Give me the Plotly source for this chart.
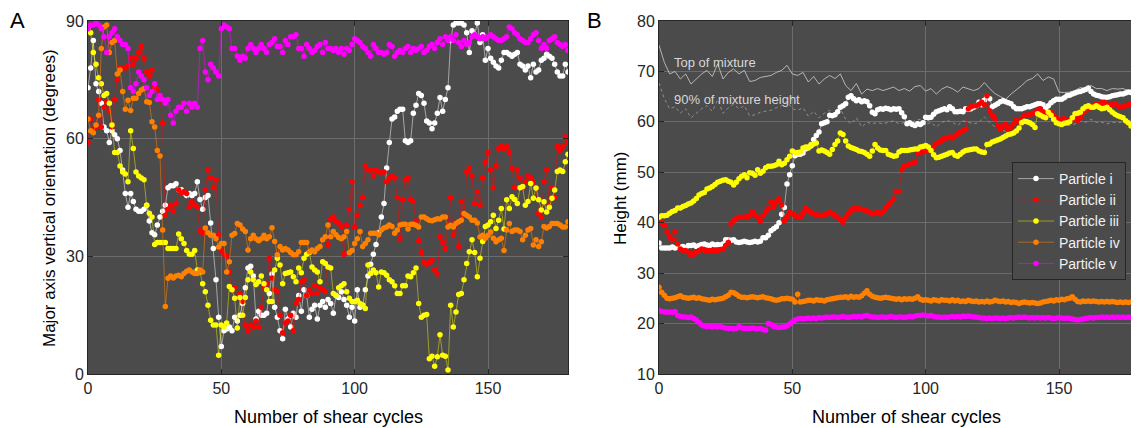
import plotly.graph_objects as go

# ---------------- data ----------------
cycles = list(range(181))
mix_cycles = list(range(0, 181, 2))

# Panel A: major axis vertical orientation (degrees)
a_i = [73, 78, 85, 74, 72, 69, 63, 62, 59, 62,
       61, 60, 57, 52, 46, 42.5, 46, 44, 42, 41.5,
       41.5, 42, 43, 39, 36, 35.5, 38, 40, 41.5, 43,
       47.5, 48, 48, 48.5, 47, 47, 46, 45.5, 46, 45.5,
       46, 49, 44.5, 42, 45, 45.5, 38.5, 32, 24, 14.5,
       7, 11, 11.5, 12, 11, 14.5, 13.5, 15, 18, 22,
       27, 27.5, 25, 14, 16, 15, 15, 15.5, 20.5, 25.5,
       17, 14.5, 11, 9, 16.5, 14, 12, 15.5, 14.5, 20,
       16, 21.5, 20, 14.5, 16.5, 17.5, 14, 17.5, 18.5, 17,
       19, 18, 15.5, 20, 19.5, 21, 19, 17.5, 14.5, 17,
       13.5, 21.5, 17, 17.5, 21.5, 25, 28, 30.5, 33, 36,
       40, 43.5, 52.5, 59, 65, 65.5, 67, 67.5, 67.5, 59.5,
       59, 59.5, 66.5, 68.5, 71.5, 71, 69, 64.5, 64, 62.5,
       64, 66.5, 70.5, 67, 70, 73, 85, 89, 89.5, 89.5,
       89.5, 89, 87, 82, 87.5, 86.5, 89.5, 84.5, 86.5, 80,
       83, 80.5, 79.5, 78.5, 78, 80, 82, 82, 81.5, 81,
       81.5, 82, 79, 78.5, 77.5, 78.5, 75.5, 79, 77, 77.5,
       80, 80.5, 81.5, 81, 80.5, 79, 77, 76, 76, 79,
       77]
a_ii = [59, 65, 62, 63, 70, 63, 68, 69.5, 67, 63,
        70, 75, 78, 78, 78, 78.5, 80.5, 79, 80.5, 82,
        83.5, 80.5, 77, 76, 77.5, 73, 72.5, 70.5, 64, 40.5,
        42, 43, 41.5, 43.5, 47, 46, 46.5, 46, 42.5, 44,
        43, 42.5, 36.5, 36, 47, 52, 50, 47.5, 49.5, 35.5,
        31.5, 30.5, 30, 26, 21.5, 22, 19.5, 20.5, 18.5, 12.5,
        11, 12.5, 12, 13.5, 12, 17, 22, 23, 29.5, 24.5,
        21.5, 21, 15, 10.5, 13, 13.5, 15, 11, 18, 19,
        23.5, 24, 20, 21.5, 20.5, 22.5, 20.5, 22, 21.5, 21,
        33, 39.5, 40, 39, 38.5, 37.5, 30.5, 38, 42, 49,
        37.5, 40.5, 43, 45, 53, 52, 52, 50.5, 52, 51.5,
        51.5, 51.5, 49, 50, 50.5, 50, 45, 34.5, 44.5, 49.5,
        50, 44.5, 44, 39, 34, 31, 28.5, 28, 28.5, 29,
        26.5, 25.5, 35, 33.5, 32, 38, 45, 35.5, 38.5, 32.5,
        44, 40.5, 51.5, 52.5, 50.5, 43.5, 46.5, 43, 50, 54,
        56.5, 52, 47.5, 53, 57.5, 58, 57.5, 58, 56.5, 52.5,
        47.5, 52, 50, 47.5, 49, 50.5, 50, 49, 47.5, 41,
        40, 49, 52, 43, 47.5, 45, 58, 57, 58, 60.5,
        59]
a_iii = [88, 87, 82, 79, 75.5, 74, 71, 71.5, 69, 63.5,
         56.5, 56.5, 53, 51.5, 51, 49, 62, 57.5, 51.5, 50.5,
         50, 49.5, 43, 41, 40, 33, 33.5, 33.5, 33.5, 33.5,
         32, 32, 32, 32, 35.7, 34.5, 33.3, 31.5, 30.5, 30.5,
         31.5, 26.5, 26, 23, 21, 17.5, 13.7, 12.5, 12.5, 4.8,
         12.5, 12, 13, 22.3, 21.5, 19.3, 11.7, 19.5, 15, 19.5,
         24, 26, 24, 22.8, 23.5, 25, 23, 21.5, 18.5, 18.5,
         26.5, 29.5, 27.8, 23, 25.6, 25.8, 26, 24.8, 23.5, 27,
         25.8, 29.5, 30.5, 31, 27.3, 26.5, 26, 23.5, 28.6, 28.2,
         27.3, 27, 20.5, 20, 22, 22.5, 23, 21, 19.3, 18.5,
         18.4, 18.8, 18, 17.6, 16.7, 27.8, 25.6, 26.5, 25.8, 22.2,
         26, 25.8, 25.2, 24, 23.5, 22.5, 20.5, 20.5, 22.5, 22.5,
         25, 24.8, 25.8, 27, 18, 14.5, 15, 15.2, 3.9, 4.5,
         2, 4.4, 10, 4.8, 4.5, 1, 17.5, 12, 15.8, 20.3,
         20.5, 24, 28.2, 31.2, 34.2, 31, 24.8, 29.5, 33.8, 37.6,
         38, 38.8, 40.5, 37.1, 39.2, 42.2, 37, 44.4, 42.2, 45.2,
         44.5, 43.5, 47.5, 47.8, 43, 44, 48.6, 44.8, 47.4, 44.4,
         41.8, 43.9, 41.3, 42.5, 44.8, 46.9, 51.6, 52, 51.6, 54.1,
         56]
a_iv = [65, 62, 61.5, 63.5, 66, 83, 88.5, 89, 82, 84.5,
        85, 76.5, 77.5, 72, 67.5, 69.8, 67.2, 70.3, 70.3, 71.5,
        72.4, 72.8, 69.4, 69.2, 64.3, 63, 57, 55.6, 36.7, 17.2,
        24.4, 25, 24.5, 25, 25.2, 24.8, 25.6, 26.2, 26.5, 26,
        25.6, 25.6, 26.5, 26, 37.2, 36, 35.4, 35.4, 34.5, 32.4,
        33.3, 33.3, 26, 28.6, 35.4, 35.8, 38.4, 38, 37, 36.3,
        31.6, 34.5, 35.4, 34.5, 34, 34.5, 35.4, 34.5, 35, 37.3,
        33.8, 30.4, 32.5, 31.6, 32, 31.6, 31, 30.4, 30.4, 31.2,
        33.5, 33.5, 33.5, 31.2, 31.6, 31.2, 32, 32.5, 34.2, 35,
        38, 35, 36.3, 35.5, 34.8, 34.5, 35, 36.3, 30.9, 31.5,
        33.3, 34.5, 36.3, 32.5, 33.3, 34.2, 35.9, 35.9, 35.9, 35.5,
        36.7, 37.2, 37.5, 38, 37.6, 35.9, 36.7, 38, 38.2, 38.2,
        37, 38.2, 38.2, 37.9, 37.5, 40, 40, 39.6, 39.2, 39.1,
        39.3, 39.6, 39.5, 40, 40, 37.5, 37.9, 37.5, 38.4, 38.8,
        39.2, 40.9, 40.5, 40, 39.2, 39.2, 38.5, 34.9, 35.4, 34.6,
        35.4, 36.2, 34.6, 33.7, 34.2, 34.6, 31.5, 36.7, 38.4, 36.3,
        36.7, 36.7, 36.3, 34.2, 35.4, 36.7, 37.1, 32.9, 34.2, 32.5,
        33.7, 37.6, 37.2, 37.6, 38.4, 38.4, 38.4, 38, 37.5, 37.5,
        38.8]
a_v = [88, 89, 89, 89.5, 89, 88, 86, 82, 86, 87,
       88, 86, 85, 84, 84, 83, 73, 72, 74, 77,
       76, 75, 73, 71, 72, 74, 70, 71, 70, 69,
       70, 66, 64, 67, 68, 68, 69, 67, 69, 68,
       69, 68, 83, 85, 77, 75, 79, 78, 77, 76,
       88, 89, 88.5, 88, 83, 83, 81, 80, 81, 80.5,
       83, 84, 83, 82, 83, 84, 83, 82, 84, 84.5,
       85.5, 83.5, 83.5, 82, 85, 84, 86, 86, 86.5, 83,
       83, 81, 84, 83, 82, 82.5, 83.5, 84, 82, 84.5,
       83, 83, 82.5, 83, 82, 83, 81.5, 83, 82.5, 84,
       85.5, 85, 84.5, 83.5, 83, 82, 81, 84, 83, 82,
       82, 81.5, 82, 84, 83.5, 81, 82, 82.5, 82, 83,
       83.5, 82, 83, 82.5, 83, 83.5, 82, 82.5, 83.5, 84,
       83, 84.5, 85.5, 84, 86, 85, 86, 85, 86.5, 84.5,
       83.5, 85, 84, 84.5, 86, 86.5, 86, 85.5, 86, 85.5,
       86, 86.5, 86, 85.5, 85, 85, 85.5, 86, 88.5, 88,
       87, 86.5, 85.5, 85, 84.5, 84.5, 85.5, 86.5, 87, 85,
       83, 84, 83, 85, 85.5, 86, 84.5, 84, 83.5, 84,
       82.5]

# Panel B: height (mm)
b_i = [36, 35, 35, 35, 35, 35.2, 35, 35.2, 35.2, 35.3,
       35, 35.5, 35.5, 35.6, 35.3, 35.5, 35.7, 35.8, 35.6, 35.5,
       35.8, 35.6, 35.7, 35.6, 35.8, 36.6, 36.6, 36.5, 36.6, 36.2,
       36.1, 36.2, 36.3, 36.2, 36.1, 36.2, 36.3, 36.2, 36.3, 37,
       37, 37.5, 38.4, 38.8, 39.2, 40, 41.7, 43, 47.7, 49.5,
       51.3, 53.3, 53.6, 53.6, 53.8, 54.6, 55, 55.2, 56.5, 57.3,
       58, 59.6, 59.8, 60, 61.3, 61.2, 61.4, 62, 62.9, 63.2,
       63.6, 64.9, 65.2, 64.6, 64.2, 64.4, 64, 64.2, 64, 63.2,
       61.9, 61.6, 62.4, 62.6, 62.5, 62.7, 62.6, 62.4, 62.6, 62.5,
       62.6, 61.8, 61, 59.6, 59.8, 59.5, 59.3, 59.6, 59.5, 59.8,
       60.9, 60.8, 60.9, 61.5, 62, 62.2, 62.4, 62.6, 62.4, 63,
       62.6, 62, 62, 62.1, 62, 62.6, 62.5, 62.6, 62.9, 63.2,
       63.9, 63.4, 64.3, 64.9, 64.6, 63, 63.3, 63.6, 64, 64.2,
       64, 63.8, 63.6, 63, 62.6, 62.6, 62.6, 62.8, 63, 63,
       63.2, 63.4, 63.6, 63.6, 63.4, 62.6, 63.2, 63.8, 64.2, 64.5,
       64.5, 64.5, 64.8, 65.2, 65.3, 65.5, 65.7, 65.9, 66, 66.2,
       66.4, 66.7, 66, 65.5, 65.3, 65.2, 65, 64.9, 64.9, 65,
       65.2, 65.3, 65.4, 65.5, 65.5, 65.7, 65.9, 65.8, 65.6, 65.5,
       65.5]
b_ii = [40.4, 40, 39.5, 38.2, 37.2, 36.6, 38.2, 35.8, 34.8, 34.5,
        34.5, 34.2, 33.5, 33.8, 34.2, 34.5, 34.8, 34.6, 34.5, 34.5,
        34.5, 34.6, 34.5, 34.7, 34.8, 35.5, 36.1, 39.8, 40.5, 40.8,
        41.1, 41.1, 41.1, 41.2, 41.4, 42.1, 41.5, 41.1, 40.4, 41.4,
        42.1, 42.8, 44.1, 43.2, 44.1, 44.7, 43.5, 40.4, 41.2, 42.1,
        41.8, 41.4, 41.2, 41.1, 42, 42.8, 42.4, 42, 41.8, 41.6,
        41.5, 41.4, 41.6, 41.8, 42.1, 41.8, 41.4, 41.1, 40.6, 40.1,
        41, 41.8, 42.4, 42.8, 42.8, 42.8, 42.6, 42.5, 42.3, 42.1,
        41.8, 41.9, 42.1, 41.8, 42.2, 42.8, 43.5, 44.1, 44.7, 46.2,
        46.2, 50.5, 51.2, 51.4, 51.7, 51.8, 52, 53.7, 54, 54,
        54.2, 54.4, 54.7, 55, 55.7, 56, 56.3, 56.7, 56.8, 57,
        56.8, 57.3, 57.6, 58, 58.3, 58.5, 62.6, 63, 63.2, 63.2,
        63.5, 63.9, 63.4, 65.2, 62.2, 61.3, 60.6, 59.3, 58.6, 59.2,
        59.5, 58.6, 59, 59.6, 60.3, 60, 60.5, 61.3, 61.3, 61.4,
        61.6, 61.9, 62.3, 62.6, 62, 61.6, 61.3, 61.9, 61.3, 60.8,
        60.3, 60.5, 60.6, 60.3, 60.1, 60.5, 60.6, 60.3, 60.8, 61.9,
        62.3, 62.6, 63, 63.2, 63.5, 63.6, 63.8, 63.9, 63.4, 63.2,
        63.5, 63.6, 63.2, 62.9, 63, 63.2, 63.4, 63.6, 63.8, 63.9,
        63.5]
b_iii = [41.1, 41.4, 41.4, 41.5, 41.9, 42.2, 42.4, 42.9, 42.9, 43.2,
         43.4, 43.7, 43.9, 44.3, 44.8, 45.5, 45.8, 46, 46.7, 46.9,
         47.2, 47.6, 48, 48.2, 48.4, 48.5, 48.2, 48, 47.5, 48,
         48.7, 49.2, 49.5, 48.9, 49.9, 49.8, 49.4, 50.5, 49.8, 50.2,
         50.9, 51.2, 51.2, 51.3, 51.5, 52.2, 51.5, 51.8, 52.5, 53.2,
         54.2, 53.9, 53.9, 54, 54.8, 55, 54.8, 55.5, 55.6, 55.8,
         54.2, 54.4, 54.2, 53.9, 53.6, 54.5, 55.5, 56.2, 57.8, 57.5,
         56.2, 55.2, 54.9, 54.7, 54.5, 54.2, 54.1, 53.9, 53.6, 53.2,
         54.2, 55.5, 54.8, 54.4, 54.3, 54.3, 53.6, 53.4, 53.2, 53.3,
         54, 54.3, 54.3, 54.3, 54.4, 54.5, 54.6, 54.6, 55, 55.1,
         55.3, 55, 54.3, 53.5, 52.9, 53, 53.2, 53.4, 53.6, 53.8,
         53.9, 53.4, 53.2, 53.6, 54, 54.3, 54.4, 54.5, 54.6, 54.6,
         54.2, 54, 53.9, 55.5, 55.6, 56, 56.2, 56.4, 56.6, 56.9,
         57.2, 57.5, 57.6, 57.8, 58.2, 58.8, 59.8, 60.1, 60, 59.8,
         59.5, 58.9, 61.6, 61.3, 61, 60.8, 61.9, 61.3, 60.5, 59.8,
         59.6, 59.5, 59.7, 59.8, 60, 60.8, 61.6, 61.7, 61.9, 62.6,
         63, 63.2, 62.9, 62.9, 63.2, 62.9, 62.6, 62.7, 62.9, 62.4,
         61.9, 61.5, 61.2, 61, 60.8, 60.2, 59.8, 59.2, 60.4, 60.1,
         59.8]
b_iv = [27.2, 26.2, 25.6, 25, 24.9, 25, 25.1, 25.3, 25.5, 25.2,
        25.1, 25, 25.1, 25.2, 25, 25.1, 24.9, 24.8, 24.7, 24.6,
        24.8, 24.7, 24.8, 24.9, 25, 25.3, 25.6, 26.2, 26.1, 25.8,
        25.4, 25.2, 25.2, 25.1, 25.2, 25.3, 25.2, 25.1, 25.2, 25.3,
        25.1, 25, 24.9, 24.7, 24.6, 24.7, 24.9, 24.9, 25, 24.9,
        24.8, 24.3, 25.8, 24.3, 24.4, 24.5, 24.6, 24.6, 24.5, 24.7,
        24.6, 24.6, 24.5, 24.7, 24.8, 24.9, 25, 25.1, 25.2, 25.2,
        25.3, 25.1, 25.4, 25.2, 25.3, 25.2, 25.5, 26, 26.5, 25.8,
        25.4, 25.2, 25.1, 25, 25.1, 25.2, 25.1, 25, 24.9, 24.8,
        24.9, 24.7, 24.9, 24.8, 24.9, 24.8, 25, 25.3, 24.8, 24.6,
        24.7, 24.6, 24.5, 24.7, 24.6, 24.5, 24.7, 24.6, 24.6, 24.5,
        24.7, 24.5, 24.6, 24.4, 24.5, 24.4, 24.6, 24.5, 24.4, 24.5,
        24.3, 24.4, 24.3, 24.5, 24.3, 24.4, 24.6, 24.5, 24.4, 24.5,
        24.3, 24.4, 24.2, 24.3, 24.2, 24, 24.2, 24.3, 24.2, 24.1,
        24.2, 24.1, 24, 24.1, 24.3, 24.4, 24.5, 24.6, 24.5, 24.7,
        24.6, 24.8, 24.7, 24.9, 25, 25.3, 24.8, 24.4, 24.3, 24.5,
        24.4, 24.5, 24.4, 24.5, 24.4, 24.3, 24.4, 24.3, 24.4, 24.3,
        24.4, 24.3, 24.2, 24.3, 24.2, 24.3, 24.2, 24.3, 24.2, 24.3,
        24.2]
b_v = [22.6, 22.4, 22.3, 22.3, 22.3, 22.2, 22.4, 21.6, 21.4, 21.3,
       21.3, 21.2, 21.3, 21, 20.7, 20.2, 19.7, 19.5, 19.4, 19.4,
       19.3, 19.4, 19.3, 19.4, 19.2, 19.1, 19, 19, 18.9, 19,
       19.4, 19.1, 19, 19, 19, 19.1, 19, 18.9, 19, 18.8,
       18.7, 20, 19.8, 19.4, 19.3, 19.2, 19.3, 19.3, 19.5, 19.9,
       20.3, 20.7, 20.9, 21, 20.9, 21, 21.1, 21, 21.1, 21,
       21.2, 21.1, 21.2, 21.3, 21.2, 21.3, 21.3, 21.2, 21.3, 21.4,
       21.3, 21.2, 21.3, 21.4, 21.3, 21.4, 21.3, 21.5, 21.6, 21.4,
       21.3, 21.3, 21.2, 21.3, 21.3, 21.2, 21.3, 21.4, 21.3, 21.2,
       21.3, 21.3, 21.2, 21.3, 21.4, 21.3, 21.5, 21.6, 21.6, 21.7,
       21.6, 21.5, 21.6, 21.4, 21.3, 21.3, 21.2, 21.3, 21.2, 21.3,
       21.4, 21.3, 21.4, 21.3, 21.5, 21.4, 21.5, 21.4, 21.3, 21.3,
       21.2, 21.1, 21.1, 21, 21.1, 21, 21.1, 21.1, 21, 21.1,
       21, 21.1, 21.2, 21.1, 21.2, 21.3, 21.2, 21.3, 21.2, 21.1,
       21.2, 21.1, 21.2, 21.1, 21.2, 21.1, 21.2, 21.1, 21, 21.1,
       21.2, 21.1, 21, 21.1, 21, 20.9, 20.8, 20.7, 20.8, 20.9,
       21, 21.1, 21.2, 21.1, 21.2, 21.2, 21.3, 21.2, 21.3, 21.2,
       21.3, 21.2, 21.3, 21.2, 21.3, 21.2, 21.3, 21.2, 21.3, 21.2,
       21.3]

top_mix = [75.2, 71.8, 69.5, 70, 68.5, 69.5, 67.5, 68.5, 69.5, 70.2,
           69, 71.5, 68.5, 69.8, 70.5, 69.5, 70.2, 68, 68.2, 68.8,
           69, 69.2, 69.8, 70.2, 71.2, 69.5, 69.2, 69.8, 67.9, 69,
           67.5, 68.5, 69.2, 68.6, 69.5, 67.2, 66.2, 67.6, 65.5, 66.5,
           66.2, 66.6, 66.2, 66.6, 66.9, 66.2, 66.6, 66.1, 67, 67.2,
           66.1, 66.6, 65.5, 66.5, 67, 66.6, 65.9, 66.9, 66.6, 66.2,
           66.6, 67.8, 66.6, 65.6, 65, 64.5, 65.5, 66.3, 67.2, 68.2,
           68.6, 69.5, 68.2, 68.9, 68.5, 65.9, 65.8, 65.9, 66.2, 66.8,
           66.6, 67.2, 66.6, 66.6, 66.2, 66.6, 66.5, 66.6, 66.2, 66.6,
           66]
mix90 = [67.7, 64.6, 62.6, 63, 61.7, 62.6, 60.8, 61.7, 62.6, 63.2,
         62.1, 64.4, 61.7, 62.8, 63.5, 62.6, 63.2, 61.2, 61.4, 61.9,
         62.1, 62.3, 62.8, 63.2, 64.1, 62.6, 62.3, 62.8, 61.1, 62.1,
         60.8, 61.7, 62.3, 61.7, 62.6, 60.5, 59.6, 60.8, 59, 59.9,
         59.6, 59.9, 59.6, 59.9, 60.2, 59.6, 59.9, 59.5, 60.3, 60.5,
         59.5, 59.9, 59, 59.9, 60.3, 59.9, 59.3, 60.2, 59.9, 59.6,
         59.9, 61, 59.9, 59, 58.5, 58.1, 59, 59.7, 60.5, 61.4,
         61.7, 62.6, 61.4, 62, 61.7, 59.3, 59.2, 59.3, 59.6, 60.1,
         59.9, 60.5, 59.9, 59.9, 59.6, 59.9, 59.9, 59.9, 59.6, 59.9,
         59.4]

names = ["Particle i", "Particle ii", "Particle iii", "Particle iv", "Particle v"]
colors = ["#ffffff", "#ff0000", "#ffff00", "#ff8000", "#ff00ff"]
line_colors = ["rgba(255,255,255,0.5)", "rgba(255,0,0,0.5)", "rgba(255,255,0,0.45)",
               "rgba(255,128,0,0.55)", "rgba(255,0,255,0.55)"]
series_a = [a_i, a_ii, a_iii, a_iv, a_v]
series_b = [b_i, b_ii, b_iii, b_iv, b_v]

FONT = "Liberation Sans, Arial, Helvetica, sans-serif"
BG = "#4b4b4b"
GRID = "#6c6c6c"
DARK = "#262626"

# page body has an 8px margin; figure is sized to fit the window
OFF = 8
W, H = 1139 - OFF, 428 - OFF


def px(x):
    return (x - OFF) / W


def py(y):
    return (H - (y - OFF)) / H


fig = go.Figure()

for n, c, lc, ys in zip(names, colors, line_colors, series_a):
    fig.add_trace(go.Scatter(
        x=cycles[:len(ys)], y=ys, mode="lines+markers", name=n,
        line=dict(color=lc, width=1), marker=dict(color=c, size=5.5),
        xaxis="x", yaxis="y", showlegend=False))

fig.add_trace(go.Scatter(
    x=mix_cycles[:len(top_mix)], y=top_mix, mode="lines", name="Top of mixture",
    line=dict(color="#cfcfcf", width=0.8), xaxis="x2", yaxis="y2", showlegend=False))
fig.add_trace(go.Scatter(
    x=mix_cycles[:len(mix90)], y=mix90, mode="lines", name="90% of mixture height",
    line=dict(color="#a0a0a0", width=0.8, dash="dot"), xaxis="x2", yaxis="y2", showlegend=False))

for n, c, lc, ys in zip(names, colors, line_colors, series_b):
    fig.add_trace(go.Scatter(
        x=cycles[:len(ys)], y=ys, mode="lines+markers", name=n,
        line=dict(color=lc, width=1), marker=dict(color=c, size=5.5),
        xaxis="x2", yaxis="y2", showlegend=True))

axis_common = dict(
    showgrid=True, gridcolor=GRID, gridwidth=1, zeroline=False, automargin=False,
    showline=True, linecolor=DARK, linewidth=1, mirror="ticks",
    ticks="inside", ticklen=5, tickcolor=DARK, tickwidth=1,
    tickfont=dict(family=FONT, size=16, color=DARK),
)
y_dom = [py(374), py(21)]

fig.update_layout(
    width=W, height=H,
    margin=dict(l=0, r=0, t=0, b=0, pad=0, autoexpand=False),
    paper_bgcolor="white", plot_bgcolor=BG,
    font=dict(family=FONT, color=DARK),
    xaxis=dict(domain=[px(88), px(568)], range=[0, 180], tickvals=[0, 50, 100, 150],
               anchor="y", **axis_common),
    yaxis=dict(domain=y_dom, range=[0, 90], tickvals=[0, 30, 60, 90],
               anchor="x", **axis_common),
    xaxis2=dict(domain=[px(659), 1.0], range=[0, 180], tickvals=[0, 50, 100, 150],
                anchor="y2", **axis_common),
    yaxis2=dict(domain=y_dom, range=[10, 80], tickvals=[10, 20, 30, 40, 50, 60, 70, 80],
                anchor="x2", **axis_common),
    legend=dict(x=px(1012), y=py(162), xanchor="left", yanchor="top",
                bgcolor=BG, bordercolor=DARK, borderwidth=1,
                font=dict(family=FONT, size=14, color="#f2f2f2"),
                tracegroupgap=0, itemwidth=36),
    showlegend=True,
)


def label(text, x, y, size, angle=0, color="black", ref=("paper", "paper"), xanchor="center"):
    return dict(text=text, x=x, y=y, xref=ref[0], yref=ref[1], xanchor=xanchor,
                yanchor="middle", showarrow=False, textangle=angle,
                font=dict(family=FONT, size=size, color=color))


ann = [
    label("A", px(17), py(20), 22),
    label("B", px(594), py(20), 22),
    label("Number of shear cycles", px(328), py(417), 18),
    label("Number of shear cycles", px(906), py(417), 18),
    label("Major axis vertical orientation (degrees)", px(50), py(198), 17, angle=-90),
    label("Height (mm)", px(621), py(198), 17, angle=-90),
    label("Top of mixture", 5, 71.8, 13, color="#d8d8d8", ref=("x2", "y2"), xanchor="left"),
    label("90% of mixture height", 5, 64.5, 13, color="#d8d8d8", ref=("x2", "y2"), xanchor="left"),
]
fig.update_layout(annotations=ann)

fig.write_html("out.html")
